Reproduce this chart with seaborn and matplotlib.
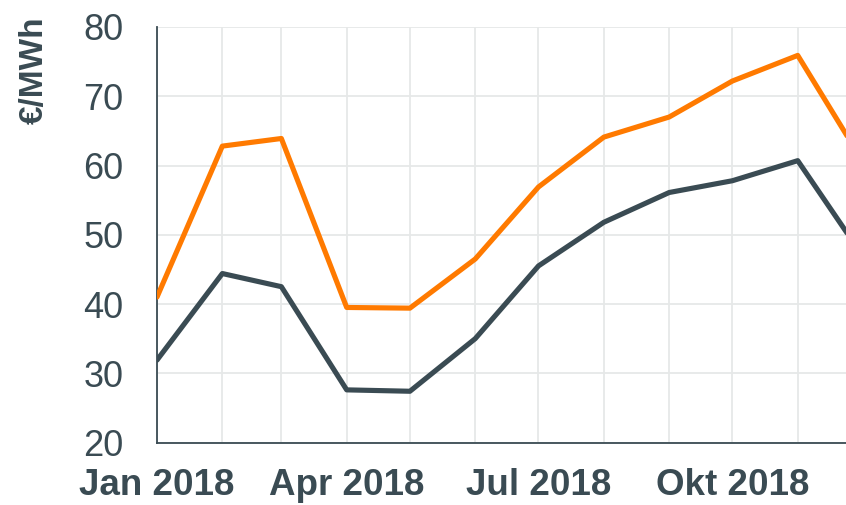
import pandas as pd
import numpy as np
import seaborn as sns
import matplotlib.pyplot as plt
import matplotlib.dates as mdates

# Monthly prices 2018
months = pd.date_range('2018-01-01', periods=12, freq='MS')
orange_vals = [41.0, 62.8, 63.9, 39.5, 39.4, 46.5, 56.9, 64.1, 67.0, 72.2, 75.9, 61.0]
dark_vals = [31.9, 44.4, 42.5, 27.6, 27.4, 35.0, 45.5, 51.8, 56.1, 57.8, 60.7, 47.3]
tick_labels = ['Jan 2018', 'Apr 2018', 'Jul 2018', 'Okt 2018']
y_label = '€/MWh'

df = pd.DataFrame({
    'Monat': list(months) * 2,
    'Preis': orange_vals + dark_vals,
    'Serie': ['orange'] * 12 + ['dark'] * 12,
})

ink = '#3a4b53'
sns.set_theme(style='white')
plt.rcParams['font.family'] = ['Liberation Sans', 'DejaVu Sans']

fig = plt.figure(figsize=(8.46, 5.05), dpi=100)
ax = fig.add_axes([157 / 846, 1 - 442.5 / 505, 1 - 157 / 846, (442.5 - 27) / 505])

sns.lineplot(data=df, x='Monat', y='Preis', hue='Serie',
             palette={'orange': '#ff7a00', 'dark': '#3a4b53'},
             linewidth=3.7, legend=False, ax=ax, zorder=3)

ax.set_xlim(pd.Timestamp('2018-01-01'), pd.Timestamp('2018-01-01') + pd.Timedelta(days=326.9))
ax.set_ylim(20, 80)
ax.set_yticks(np.arange(20, 81, 10))

major = [pd.Timestamp(f'2018-{m:02d}-01') for m in (1, 4, 7, 10)]
ax.set_xticks(major)
ax.set_xticklabels(tick_labels)
ax.xaxis.set_minor_locator(mdates.MonthLocator())

ax.grid(True, which='both', axis='x', color='#e6e8e8', linewidth=1.3)
ax.grid(True, which='major', axis='y', color='#e6e8e8', linewidth=1.3)
ax.set_axisbelow(True)

for s in ['top', 'right']:
    ax.spines[s].set_visible(False)
for s in ['left', 'bottom']:
    ax.spines[s].set_color(ink)
    ax.spines[s].set_linewidth(1.3)

ax.tick_params(axis='both', which='major', direction='out', length=8, width=1.3,
               color=ink, labelcolor=ink)
ax.tick_params(axis='x', which='minor', length=0)
ax.tick_params(axis='y', labelsize=26, pad=16)
ax.tick_params(axis='x', labelsize=26.5, pad=10.5)
for lbl in ax.get_xticklabels():
    lbl.set_fontweight('bold')

ax.set_xlabel('')
ax.set_ylabel(y_label, fontsize=24, fontweight='bold', color=ink, loc='top')
ax.yaxis.set_label_coords((50 - 157) / 689, (442.5 - 16) / 415.5)

fig.savefig('out.png', dpi=100)
